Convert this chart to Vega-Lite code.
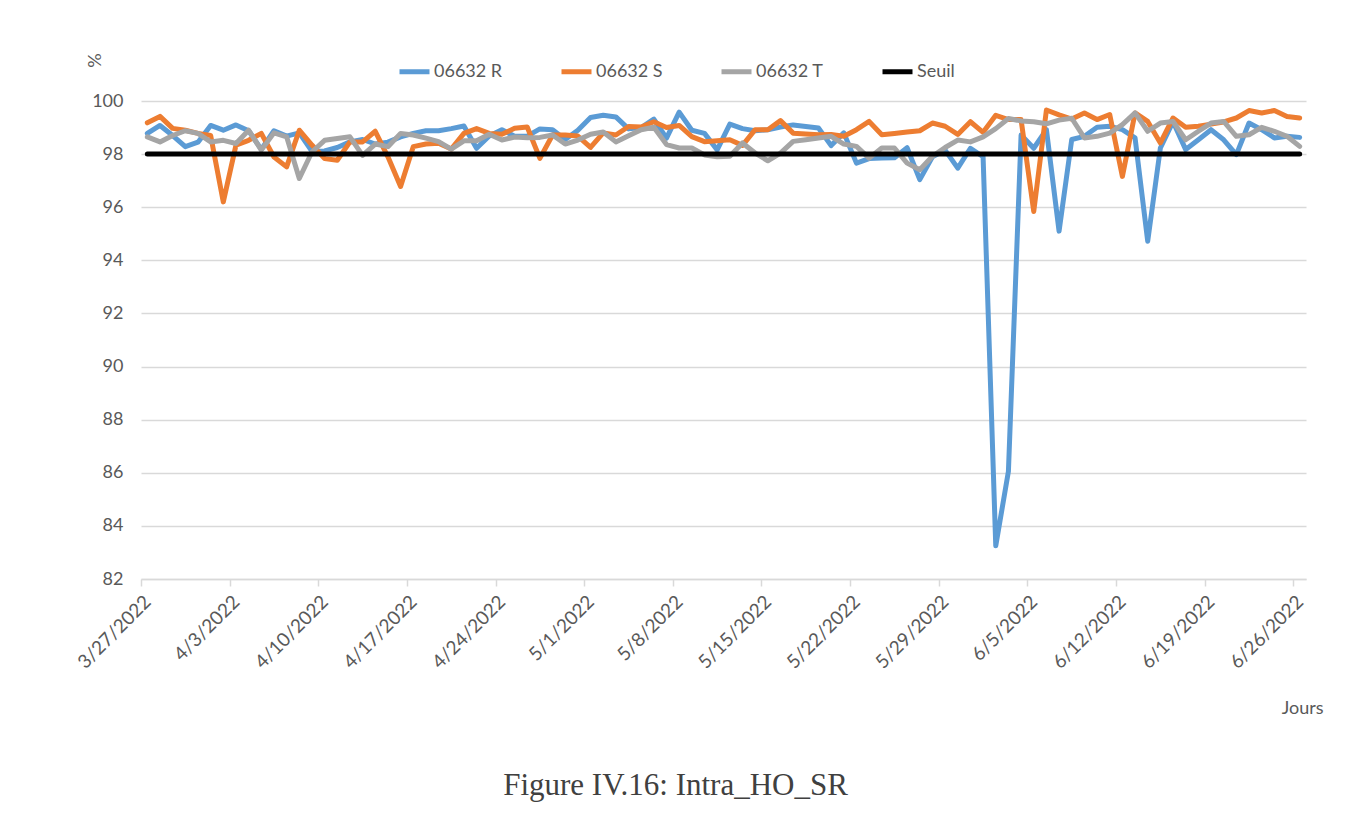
{
"$schema": "https://vega.github.io/schema/vega-lite/v6.json",
"autosize": {"type": "none"},
"width": 1165,
"height": 478,
"padding": {"left": 141, "top": 101, "right": 46, "bottom": 234},
"background": "white",
"config": {"view": {"stroke": null}, "font": "Lato"},
"title": {"text": "Figure IV.16: Intra_HO_SR", "orient": "bottom", "anchor": "middle", "frame": "group", "font": "Liberation Serif", "fontSize": 31, "fontWeight": "normal", "color": "#404040", "offset": 54, "dx": -48},
"data": {"values": [
{"d":"2022-03-27","06632 R":98.78,"06632 S":99.18,"06632 T":98.65,"Seuil":98},
{"d":"2022-03-28","06632 R":99.08,"06632 S":99.42,"06632 T":98.46,"Seuil":98},
{"d":"2022-03-29","06632 R":98.7,"06632 S":98.97,"06632 T":98.7,"Seuil":98},
{"d":"2022-03-30","06632 R":98.28,"06632 S":98.9,"06632 T":98.88,"Seuil":98},
{"d":"2022-03-31","06632 R":98.45,"06632 S":98.78,"06632 T":98.78,"Seuil":98},
{"d":"2022-04-01","06632 R":99.08,"06632 S":98.7,"06632 T":98.46,"Seuil":98},
{"d":"2022-04-02","06632 R":98.9,"06632 S":96.2,"06632 T":98.52,"Seuil":98},
{"d":"2022-04-03","06632 R":99.1,"06632 S":98.34,"06632 T":98.4,"Seuil":98},
{"d":"2022-04-04","06632 R":98.88,"06632 S":98.52,"06632 T":98.9,"Seuil":98},
{"d":"2022-04-05","06632 R":98.18,"06632 S":98.78,"06632 T":98.15,"Seuil":98},
{"d":"2022-04-06","06632 R":98.88,"06632 S":97.89,"06632 T":98.8,"Seuil":98},
{"d":"2022-04-07","06632 R":98.68,"06632 S":97.52,"06632 T":98.65,"Seuil":98},
{"d":"2022-04-08","06632 R":98.8,"06632 S":98.9,"06632 T":97.08,"Seuil":98},
{"d":"2022-04-09","06632 R":98.1,"06632 S":98.34,"06632 T":98.08,"Seuil":98},
{"d":"2022-04-10","06632 R":98.12,"06632 S":97.83,"06632 T":98.52,"Seuil":98},
{"d":"2022-04-11","06632 R":98.25,"06632 S":97.77,"06632 T":98.59,"Seuil":98},
{"d":"2022-04-12","06632 R":98.46,"06632 S":98.46,"06632 T":98.65,"Seuil":98},
{"d":"2022-04-13","06632 R":98.55,"06632 S":98.46,"06632 T":97.95,"Seuil":98},
{"d":"2022-04-14","06632 R":98.38,"06632 S":98.86,"06632 T":98.38,"Seuil":98},
{"d":"2022-04-15","06632 R":98.45,"06632 S":97.9,"06632 T":98.28,"Seuil":98},
{"d":"2022-04-16","06632 R":98.65,"06632 S":96.78,"06632 T":98.78,"Seuil":98},
{"d":"2022-04-17","06632 R":98.78,"06632 S":98.28,"06632 T":98.72,"Seuil":98},
{"d":"2022-04-18","06632 R":98.88,"06632 S":98.38,"06632 T":98.6,"Seuil":98},
{"d":"2022-04-19","06632 R":98.88,"06632 S":98.41,"06632 T":98.47,"Seuil":98},
{"d":"2022-04-20","06632 R":98.96,"06632 S":98.19,"06632 T":98.19,"Seuil":98},
{"d":"2022-04-21","06632 R":99.06,"06632 S":98.78,"06632 T":98.5,"Seuil":98},
{"d":"2022-04-22","06632 R":98.22,"06632 S":98.96,"06632 T":98.5,"Seuil":98},
{"d":"2022-04-23","06632 R":98.68,"06632 S":98.78,"06632 T":98.75,"Seuil":98},
{"d":"2022-04-24","06632 R":98.92,"06632 S":98.75,"06632 T":98.53,"Seuil":98},
{"d":"2022-04-25","06632 R":98.67,"06632 S":98.97,"06632 T":98.64,"Seuil":98},
{"d":"2022-04-26","06632 R":98.68,"06632 S":99.02,"06632 T":98.62,"Seuil":98},
{"d":"2022-04-27","06632 R":98.95,"06632 S":97.84,"06632 T":98.63,"Seuil":98},
{"d":"2022-04-28","06632 R":98.92,"06632 S":98.72,"06632 T":98.72,"Seuil":98},
{"d":"2022-04-29","06632 R":98.55,"06632 S":98.72,"06632 T":98.38,"Seuil":98},
{"d":"2022-04-30","06632 R":98.9,"06632 S":98.68,"06632 T":98.53,"Seuil":98},
{"d":"2022-05-01","06632 R":99.38,"06632 S":98.25,"06632 T":98.75,"Seuil":98},
{"d":"2022-05-02","06632 R":99.46,"06632 S":98.8,"06632 T":98.83,"Seuil":98},
{"d":"2022-05-03","06632 R":99.4,"06632 S":98.72,"06632 T":98.46,"Seuil":98},
{"d":"2022-05-04","06632 R":98.95,"06632 S":99.04,"06632 T":98.69,"Seuil":98},
{"d":"2022-05-05","06632 R":99.0,"06632 S":99.02,"06632 T":98.92,"Seuil":98},
{"d":"2022-05-06","06632 R":99.32,"06632 S":99.22,"06632 T":99.01,"Seuil":98},
{"d":"2022-05-07","06632 R":98.6,"06632 S":99.0,"06632 T":98.36,"Seuil":98},
{"d":"2022-05-08","06632 R":99.58,"06632 S":99.08,"06632 T":98.23,"Seuil":98},
{"d":"2022-05-09","06632 R":98.9,"06632 S":98.66,"06632 T":98.23,"Seuil":98},
{"d":"2022-05-10","06632 R":98.78,"06632 S":98.47,"06632 T":97.97,"Seuil":98},
{"d":"2022-05-11","06632 R":98.16,"06632 S":98.5,"06632 T":97.9,"Seuil":98},
{"d":"2022-05-12","06632 R":99.13,"06632 S":98.54,"06632 T":97.92,"Seuil":98},
{"d":"2022-05-13","06632 R":98.96,"06632 S":98.33,"06632 T":98.42,"Seuil":98},
{"d":"2022-05-14","06632 R":98.88,"06632 S":98.92,"06632 T":98.04,"Seuil":98},
{"d":"2022-05-15","06632 R":98.92,"06632 S":98.92,"06632 T":97.75,"Seuil":98},
{"d":"2022-05-16","06632 R":99.02,"06632 S":99.26,"06632 T":98.04,"Seuil":98},
{"d":"2022-05-17","06632 R":99.1,"06632 S":98.79,"06632 T":98.48,"Seuil":98},
{"d":"2022-05-18","06632 R":99.04,"06632 S":98.76,"06632 T":98.54,"Seuil":98},
{"d":"2022-05-19","06632 R":98.98,"06632 S":98.73,"06632 T":98.61,"Seuil":98},
{"d":"2022-05-20","06632 R":98.32,"06632 S":98.74,"06632 T":98.67,"Seuil":98},
{"d":"2022-05-21","06632 R":98.8,"06632 S":98.67,"06632 T":98.38,"Seuil":98},
{"d":"2022-05-22","06632 R":97.66,"06632 S":98.92,"06632 T":98.29,"Seuil":98},
{"d":"2022-05-23","06632 R":97.83,"06632 S":99.23,"06632 T":97.85,"Seuil":98},
{"d":"2022-05-24","06632 R":97.85,"06632 S":98.73,"06632 T":98.23,"Seuil":98},
{"d":"2022-05-25","06632 R":97.86,"06632 S":98.78,"06632 T":98.23,"Seuil":98},
{"d":"2022-05-26","06632 R":98.24,"06632 S":98.83,"06632 T":97.66,"Seuil":98},
{"d":"2022-05-27","06632 R":97.04,"06632 S":98.88,"06632 T":97.41,"Seuil":98},
{"d":"2022-05-28","06632 R":97.9,"06632 S":99.17,"06632 T":97.92,"Seuil":98},
{"d":"2022-05-29","06632 R":98.15,"06632 S":99.05,"06632 T":98.25,"Seuil":98},
{"d":"2022-05-30","06632 R":97.47,"06632 S":98.74,"06632 T":98.53,"Seuil":98},
{"d":"2022-05-31","06632 R":98.22,"06632 S":99.22,"06632 T":98.46,"Seuil":98},
{"d":"2022-06-01","06632 R":97.9,"06632 S":98.82,"06632 T":98.65,"Seuil":98},
{"d":"2022-06-02","06632 R":83.25,"06632 S":99.46,"06632 T":98.96,"Seuil":98},
{"d":"2022-06-03","06632 R":86.05,"06632 S":99.3,"06632 T":99.34,"Seuil":98},
{"d":"2022-06-04","06632 R":98.72,"06632 S":99.3,"06632 T":99.25,"Seuil":98},
{"d":"2022-06-05","06632 R":98.22,"06632 S":95.84,"06632 T":99.22,"Seuil":98},
{"d":"2022-06-06","06632 R":98.92,"06632 S":99.66,"06632 T":99.14,"Seuil":98},
{"d":"2022-06-07","06632 R":95.1,"06632 S":99.48,"06632 T":99.28,"Seuil":98},
{"d":"2022-06-08","06632 R":98.55,"06632 S":99.32,"06632 T":99.35,"Seuil":98},
{"d":"2022-06-09","06632 R":98.67,"06632 S":99.55,"06632 T":98.61,"Seuil":98},
{"d":"2022-06-10","06632 R":99.01,"06632 S":99.3,"06632 T":98.67,"Seuil":98},
{"d":"2022-06-11","06632 R":99.05,"06632 S":99.49,"06632 T":98.79,"Seuil":98},
{"d":"2022-06-12","06632 R":98.92,"06632 S":97.16,"06632 T":99.11,"Seuil":98},
{"d":"2022-06-13","06632 R":98.61,"06632 S":99.55,"06632 T":99.55,"Seuil":98},
{"d":"2022-06-14","06632 R":94.72,"06632 S":99.23,"06632 T":98.86,"Seuil":98},
{"d":"2022-06-15","06632 R":98.23,"06632 S":98.42,"06632 T":99.17,"Seuil":98},
{"d":"2022-06-16","06632 R":99.22,"06632 S":99.36,"06632 T":99.23,"Seuil":98},
{"d":"2022-06-17","06632 R":98.17,"06632 S":99.01,"06632 T":98.54,"Seuil":98},
{"d":"2022-06-18","06632 R":98.54,"06632 S":99.05,"06632 T":98.86,"Seuil":98},
{"d":"2022-06-19","06632 R":98.92,"06632 S":99.13,"06632 T":99.17,"Seuil":98},
{"d":"2022-06-20","06632 R":98.54,"06632 S":99.21,"06632 T":99.23,"Seuil":98},
{"d":"2022-06-21","06632 R":97.98,"06632 S":99.36,"06632 T":98.67,"Seuil":98},
{"d":"2022-06-22","06632 R":99.17,"06632 S":99.64,"06632 T":98.73,"Seuil":98},
{"d":"2022-06-23","06632 R":98.92,"06632 S":99.55,"06632 T":99.01,"Seuil":98},
{"d":"2022-06-24","06632 R":98.61,"06632 S":99.64,"06632 T":98.86,"Seuil":98},
{"d":"2022-06-25","06632 R":98.67,"06632 S":99.42,"06632 T":98.67,"Seuil":98},
{"d":"2022-06-26","06632 R":98.63,"06632 S":99.36,"06632 T":98.29,"Seuil":98}
]},
"transform": [{"fold": ["06632 R", "06632 S", "06632 T", "Seuil"], "as": ["serie", "valeur"]}],
"mark": {"type": "line", "strokeWidth": 5, "strokeCap": "round", "strokeJoin": "round"},
"encoding": {
  "x": {
    "field": "d", "type": "temporal", "timeUnit": "utcyearmonthdate", "bandPosition": 0.5,
    "scale": {"type": "utc", "domain": [{"year": 2022, "month": 3, "date": 27, "utc": true}, {"year": 2022, "month": 6, "date": 27, "utc": true}]},
    "axis": {
      "values": [
        {"year": 2022, "month": 3, "date": 27, "utc": true},
        {"year": 2022, "month": 4, "date": 3, "utc": true},
        {"year": 2022, "month": 4, "date": 10, "utc": true},
        {"year": 2022, "month": 4, "date": 17, "utc": true},
        {"year": 2022, "month": 4, "date": 24, "utc": true},
        {"year": 2022, "month": 5, "date": 1, "utc": true},
        {"year": 2022, "month": 5, "date": 8, "utc": true},
        {"year": 2022, "month": 5, "date": 15, "utc": true},
        {"year": 2022, "month": 5, "date": 22, "utc": true},
        {"year": 2022, "month": 5, "date": 29, "utc": true},
        {"year": 2022, "month": 6, "date": 5, "utc": true},
        {"year": 2022, "month": 6, "date": 12, "utc": true},
        {"year": 2022, "month": 6, "date": 19, "utc": true},
        {"year": 2022, "month": 6, "date": 26, "utc": true}
      ],
      "labelExpr": "utcFormat(datum.value, '%-m/%-d/%Y')",
      "labelAngle": -45, "labelAlign": "right", "labelBaseline": "top",
      "labelFont": "Lato", "labelFontSize": 19, "labelColor": "#595959", "labelPadding": 6,
      "labelOverlap": false, "labelBound": false, "labelFlush": false,
      "tickColor": "#D9D9D9", "tickSize": 7, "tickWidth": 1.5,
      "domainColor": "#D9D9D9", "domainWidth": 1.5, "grid": false,
      "title": "Jours", "titleX": 1182, "titleY": 129, "titleAlign": "right", "titleBaseline": "middle",
      "titleFont": "Lato", "titleFontSize": 18, "titleFontWeight": "normal", "titleColor": "#595959"
    }
  },
  "y": {
    "field": "valeur", "type": "quantitative",
    "scale": {"domain": [82, 100], "nice": false, "zero": false},
    "axis": {
      "values": [82, 84, 86, 88, 90, 92, 94, 96, 98, 100],
      "labelFont": "Lato", "labelFontSize": 18, "labelColor": "#595959", "labelPadding": 18,
      "ticks": false, "domain": false, "grid": true, "gridColor": "#D9D9D9", "gridWidth": 1.5,
      "title": "%", "titleAngle": -90, "titleX": -46, "titleY": -41, "titleAlign": "center", "titleBaseline": "middle",
      "titleFont": "Lato", "titleFontSize": 18, "titleFontWeight": "normal", "titleColor": "#595959"
    }
  },
  "color": {
    "field": "serie", "type": "nominal",
    "scale": {"domain": ["06632 R", "06632 S", "06632 T", "Seuil"], "range": ["#5B9BD5", "#ED7D31", "#A5A5A5", "#000000"]},
    "legend": {
      "orient": "none", "legendX": 256, "legendY": -47, "direction": "horizontal", "title": null,
      "symbolType": "stroke", "symbolStrokeWidth": 5, "symbolSize": 900,
      "labelFont": "Lato", "labelFontSize": 18, "labelColor": "#595959", "labelOffset": 2, "columnPadding": 48
    }
  }
}
}
